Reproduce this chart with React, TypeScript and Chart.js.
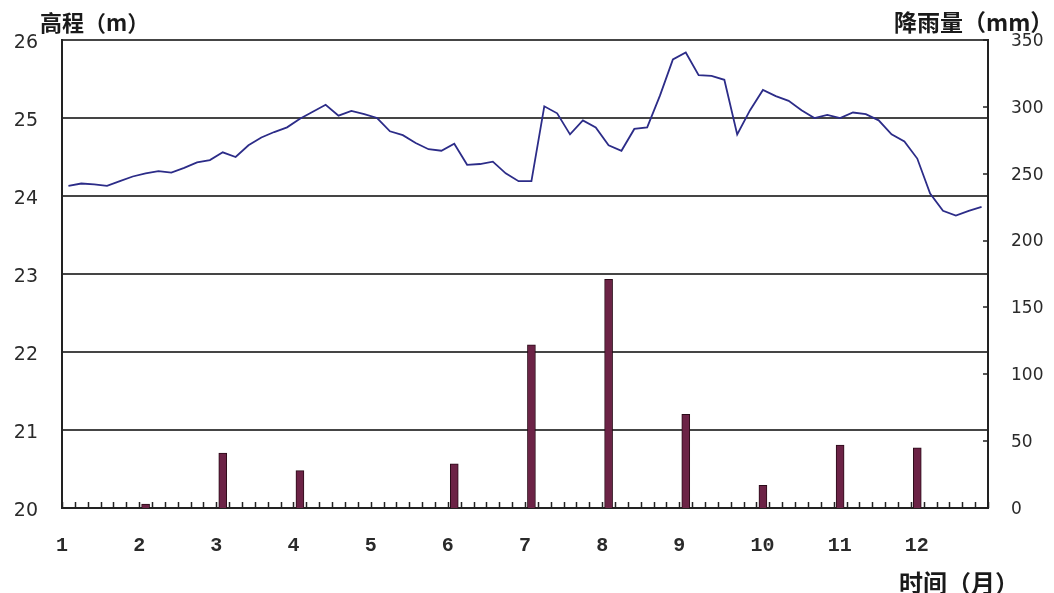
import React, { useEffect, useRef } from 'react';
import { Chart, registerables } from 'chart.js';

Chart.register(...registerables);

// ---- data ----
const months = ['1', '2', '3', '4', '5', '6', '7', '8', '9', '10', '11', '12'];
const pointsPerMonth = 6;

// water level (m), six readings per month
const elevation = [
  24.13, 24.16, 24.15, 24.13, 24.19, 24.25,
  24.29, 24.32, 24.30, 24.36, 24.43, 24.46,
  24.56, 24.50, 24.65, 24.75, 24.82, 24.88,
  24.99, 25.08, 25.17, 25.03, 25.09, 25.05,
  25.00, 24.83, 24.78, 24.68, 24.60, 24.58,
  24.67, 24.40, 24.41, 24.44, 24.29, 24.19,
  24.19, 25.15, 25.06, 24.79, 24.97, 24.88,
  24.65, 24.58, 24.86, 24.88, 25.29, 25.75,
  25.84, 25.55, 25.54, 25.49, 24.79, 25.10,
  25.36, 25.28, 25.22, 25.10, 25.00, 25.04,
  25.00, 25.07, 25.05, 24.97, 24.79, 24.70,
  24.48, 24.03, 23.81, 23.75, 23.81, 23.86,
];

// monthly rainfall (mm)
const rainfall = [0, 3, 41, 28, 0, 33, 122, 171, 70, 17, 47, 45];

const leftTicks = [20, 21, 22, 23, 24, 25, 26];
const rightTicks = [0, 50, 100, 150, 200, 250, 300, 350];

const leftTitle = '高程（m）';
const rightTitle = '降雨量（mm）';
const bottomTitle = '时间（月）';

const decorPlugin = {
  id: 'decor',
  afterDraw(chart: any) {
    const { ctx, chartArea, scales } = chart;
    const x = scales.x;
    const y2 = scales.y2;
    ctx.save();
    ctx.strokeStyle = '#222';
    ctx.lineWidth = 1.5;
    const n = x.getLabels().length;
    const step = x.getPixelForValue(1) - x.getPixelForValue(0);
    const start = x.getPixelForValue(0) - step / 2;
    ctx.beginPath();
    for (let i = 0; i <= n; i++) {
      const px = Math.round(start + i * step) + 0.5;
      ctx.moveTo(px, chartArea.bottom - 6);
      ctx.lineTo(px, chartArea.bottom);
    }
    for (const v of rightTicks) {
      const py = Math.round(y2.getPixelForValue(v));
      ctx.moveTo(chartArea.right - 5, py);
      ctx.lineTo(chartArea.right, py);
    }
    ctx.stroke();

    ctx.fillStyle = '#1a1a1a';
    ctx.textBaseline = 'middle';
    ctx.textAlign = 'left';
    ctx.font = 'bold 22px "Noto Sans CJK SC"';
    ctx.fillText(leftTitle, 40, 23);
    ctx.font = 'bold 23px "Noto Sans CJK SC"';
    ctx.fillText(rightTitle, 894, 22);
    ctx.font = 'bold 24px "Noto Sans CJK SC"';
    ctx.fillText(bottomTitle, 899, 583);
    ctx.restore();
  },
};

export default function App() {
  const ref = useRef<HTMLCanvasElement | null>(null);

  useEffect(() => {
    if (!ref.current) return;
    const labels: string[] = [];
    for (let i = 0; i < months.length * pointsPerMonth; i++) labels.push(String(i));
    const barData: (number | null)[] = labels.map(() => null);
    rainfall.forEach((v, m) => {
      barData[m * pointsPerMonth] = v > 0 ? v : null;
    });

    const chart = new Chart(ref.current, {
      type: 'bar',
      data: {
        labels,
        datasets: [
          {
            type: 'line',
            label: '高程',
            data: elevation,
            yAxisID: 'y',
            borderColor: '#2c2c88',
            borderWidth: 1.8,
            pointRadius: 0,
            tension: 0,
            order: 0,
          } as any,
          {
            type: 'bar',
            label: '降雨量',
            data: barData,
            yAxisID: 'y2',
            backgroundColor: '#6c2346',
            borderColor: '#2a0b18',
            borderWidth: 1,
            barThickness: 8,
            order: 1,
          } as any,
        ],
      },
      options: {
        responsive: false,
        animation: false,
        layout: { padding: { top: 40, left: 0, right: 0, bottom: 0 } },
        plugins: { legend: { display: false }, tooltip: { enabled: false }, title: { display: false } },
        scales: {
          x: {
            type: 'category',
            offset: true,
            grid: { display: false, drawTicks: false, offset: true },
            border: { display: true, color: '#222', width: 2 },
            ticks: {
              autoSkip: false,
              maxRotation: 0,
              minRotation: 0,
              align: 'start',
              labelOffset: -12.4,
              padding: 26,
              color: '#2a2a2a',
              font: { family: '"Liberation Mono"', size: 20, weight: 'bold' },
              callback: (_v: any, idx: number) =>
                idx % pointsPerMonth === 0 ? months[idx / pointsPerMonth] : '',
            },
            afterFit: (s: any) => {
              s.height = 85;
            },
          },
          y: {
            type: 'linear',
            position: 'left',
            min: leftTicks[0],
            max: leftTicks[leftTicks.length - 1],
            afterBuildTicks: (s: any) => {
              s.ticks = leftTicks.map((v) => ({ value: v }));
            },
            grid: { color: '#454545', lineWidth: 2, drawTicks: false },
            border: { display: true, color: '#222', width: 2 },
            ticks: {
              padding: 24,
              labelOffset: 3,
              color: '#2a2a2a',
              font: { family: '"DejaVu Sans"', size: 19 },
            },
            afterFit: (s: any) => {
              s.width = 62;
            },
          },
          y2: {
            type: 'linear',
            position: 'right',
            min: rightTicks[0],
            max: rightTicks[rightTicks.length - 1],
            afterBuildTicks: (s: any) => {
              s.ticks = rightTicks.map((v) => ({ value: v }));
            },
            grid: { display: false, drawTicks: false },
            border: { display: true, color: '#222', width: 2 },
            ticks: {
              padding: 23,
              labelOffset: 1.5,
              color: '#2a2a2a',
              font: { family: '"DejaVu Sans"', size: 17 },
            },
            afterFit: (s: any) => {
              s.width = 66;
            },
          },
        },
      } as any,
      plugins: [decorPlugin],
    });
    return () => chart.destroy();
  }, []);

  return (
    <div style={{ position: 'absolute', left: 0, top: 0, width: 1054, height: 593, background: '#fff' }}>
      <canvas ref={ref} width={1054} height={593} />
    </div>
  );
}
